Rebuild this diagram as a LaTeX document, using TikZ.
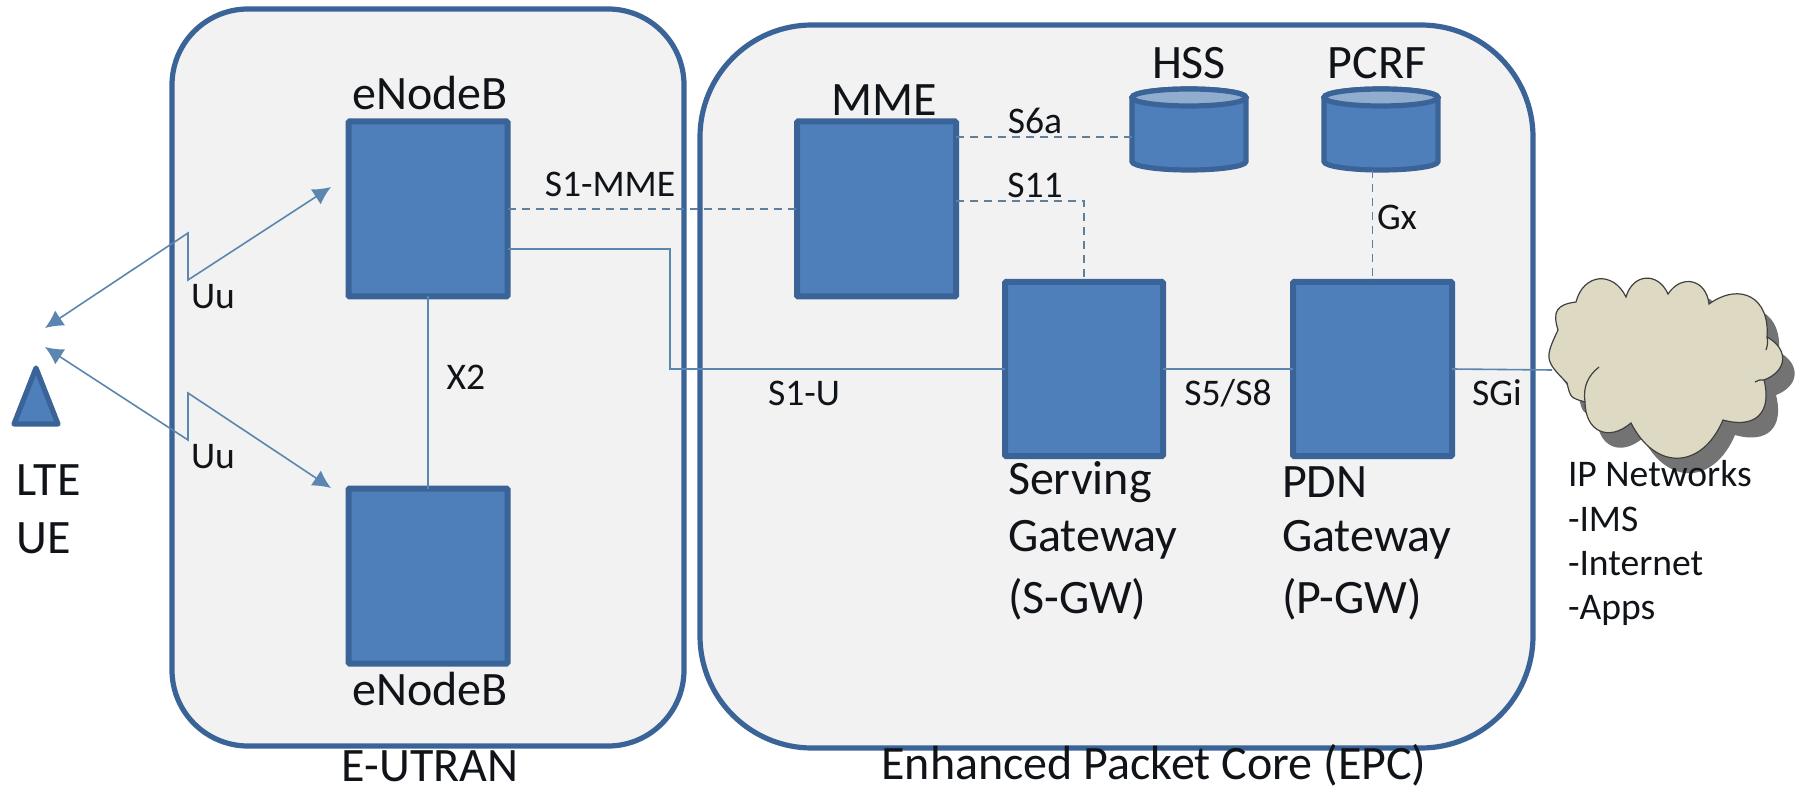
\documentclass[tikz,border=0pt]{standalone}
\usepackage{fontspec}
\setmainfont{Carlito}
\usetikzlibrary{arrows.meta,calc}
\definecolor{boxfill}{HTML}{4F7FBA}
\definecolor{boxline}{HTML}{3A6497}
\definecolor{areafill}{HTML}{F2F2F2}
\definecolor{wire}{HTML}{5A86B0}
\definecolor{dashwire}{HTML}{5F7F9F}
\definecolor{cloudfill}{HTML}{DDD9C3}
\definecolor{inktext}{HTML}{101418}
\tikzset{
  area/.style={draw=boxline,fill=areafill,line width=2.6pt,inner sep=0pt,outer sep=0pt},
  unit/.style={draw=boxline,fill=boxfill,line width=3pt,inner sep=0pt,outer sep=0pt,rounded corners=0.6pt},
  dbframe/.style={inner sep=0pt,outer sep=0pt,minimum width=57pt,minimum height=40.5pt},
  dbbody/.style={draw=boxline,fill=boxfill,line width=2.6pt},
  dbtop/.style={draw=boxline,fill=boxfill!60!areafill,line width=2.6pt},
  big/.style={font=\fontsize{24}{26}\selectfont,text=inktext,inner sep=0pt,outer sep=0pt},
  small/.style={font=\fontsize{18.8}{22}\selectfont,text=inktext,inner sep=0pt,outer sep=0pt},
  link/.style={draw=wire,line width=0.8pt},
  dlink/.style={draw=dashwire,line width=0.7pt,dash pattern=on 4pt off 3pt},
  radio/.style={draw=wire,line width=0.8pt,{Latex[length=9pt,width=9pt]}-{Latex[length=9pt,width=9pt]},line join=miter},
  cb/.style={bend left=#1,looseness=1.5},
}
\newcommand{\cloudpath}{
  (1558,330) to[cb=50] (1576,302) to[cb=70] (1626,297) to[cb=70] (1668,294)
  to[cb=70] (1709,304) to[cb=65] (1767,337) to[cb=65] (1764,380)
  to[cb=60] (1723,420) to[cb=65] (1631,423) to[cb=65] (1585,402)
  to[cb=30] (1567,383) to[cb=35] (1558,330) -- cycle}
\newcommand{\dbshape}[1]{%
  \path[dbbody] ($(#1.north west)+(0,8.5)$) -- ($(#1.south west)+(0,-8.5)$)
     arc[start angle=180,end angle=360,x radius=28.5pt,y radius=4.25pt]
     -- ($(#1.north east)+(0,8.5)$)
     arc[start angle=0,end angle=180,x radius=28.5pt,y radius=4.25pt] -- cycle;
  \path[dbtop] ($(#1.north)+(0,8.5)$) ellipse[x radius=28.5pt,y radius=4.25pt];
}
\begin{document}
\begin{tikzpicture}[x=0.5pt,y=-0.5pt]
\useasboundingbox (0,0) rectangle (1800,791);
% containers
\node[area,rounded corners=38pt,minimum width=256pt,minimum height=368.5pt] (eutran) at (428,377.5) {};
\node[area,rounded corners=56pt,minimum width=416.5pt,minimum height=361.5pt] (epc) at (1116.5,386.5) {};
% cloud
\fill[black!55,shift={(12,15)}] \cloudpath;
\path[draw=black!75,fill=cloudfill,line width=0.6pt] \cloudpath;
\draw[black!75,line width=0.6pt] (1585,402) to[bend left=30] (1599,367);
\draw[black!75,line width=0.6pt] (1764,380) to[bend right=20] (1755,382);
\draw[black!75,line width=0.6pt] (1767,337) to[bend left=15] (1766,350);
% boxes
\node[unit,minimum width=159pt/2,minimum height=175pt/2] (enb1) at (428,209) {};
\node[unit,minimum width=159pt/2,minimum height=175pt/2] (enb2) at (428,576) {};
\node[unit,minimum width=159pt/2,minimum height=175pt/2] (mme) at (876.5,209) {};
\node[unit,minimum width=158pt/2,minimum height=174pt/2] (sgw) at (1084,369) {};
\node[unit,minimum width=159pt/2,minimum height=174pt/2] (pgw) at (1372.5,369) {};
\node[dbframe] (hss) at (1189,129.5) {};
\node[dbframe] (pcrf) at (1381,129.5) {};
\dbshape{hss}
\dbshape{pcrf}
% UE
\coordinate (ua) at (36,368); \coordinate (ub) at (58,424); \coordinate (uc) at (14,424);
\draw[draw=boxline,fill=boxfill,line width=2.6pt,line join=round] (ua) -- (ub) -- (uc) -- cycle;
% connectors
\draw[dlink] ($(mme.east)+(0,-72)$) -- ($(hss.west)+(0,7.5)$);
\coordinate (s11turn) at (sgw.north |- 0,201);
\draw[dlink] ($(mme.east)+(0,-8)$) -- (s11turn) -- (sgw.north);
\draw[dlink] (enb1.east) -- (mme.west);
\draw[dlink] (pcrf.south -| pgw.north) -- (pgw.north);
\coordinate (s1a) at (670,249);
\coordinate (s1b) at (670,369);
\draw[link] ($(enb1.east)+(0,40)$) -- (s1a) -- (s1b) -- (sgw.west);
\draw[link] (sgw.east) -- (pgw.west);
\coordinate (cloudin) at (1552,370);
\draw[link] (pgw.east) -- (cloudin);
\draw[link] (enb1.south) -- (enb2.north);
\coordinate (t1) at (45,328); \coordinate (t2) at (331,187);
\coordinate (t3) at (45,347); \coordinate (t4) at (331,488);
\coordinate (z1) at (188,233); \coordinate (z2) at (188,280);
\coordinate (z3) at (188,440); \coordinate (z4) at (188,393);
\draw[radio] (t1) -- (z1) -- (z2) -- (t2);
\draw[radio] (t3) -- (z3) -- (z4) -- (t4);
% labels
\node[big,anchor=base] (l1) at (430,110) {eNodeB};
\node[big,anchor=base] (l2) at (430,705) {eNodeB};
\node[big] (l3) at (884,100) {MME};
\node[big] (l4) at (1189,63) {HSS};
\node[big] (l5) at (1377,63) {PCRF};
\node[big,anchor=west] (l6) at (1008,482) {Serving};
\node[big,anchor=west] (l7) at (1008,540) {Gateway};
\node[big,anchor=west] (l8) at (1008,599) {(S-GW)};
\node[big,anchor=west] (l9) at (1282,482) {PDN};
\node[big,anchor=west] (l10) at (1282,540) {Gateway};
\node[big,anchor=west] (l11) at (1282,599) {(P-GW)};
\node[big,anchor=west] (l12) at (17,480) {LTE};
\node[big,anchor=west] (l13) at (17,538) {UE};
\node[big,anchor=base] (l14) at (430,781) {E-UTRAN};
\node[big,anchor=base] (l15) at (1154,779) {Enhanced Packet Core (EPC)};
\node[small] (s1) at (213,297) {Uu};
\node[small] (s2) at (213,457) {Uu};
\node[small] (s3) at (466,377) {X2};
\node[small] (s4) at (610,184) {S1-MME};
\node[small] (s5) at (804,393) {S1-U};
\node[small] (s6) at (1035,121) {S6a};
\node[small] (s7) at (1035,185) {S11};
\node[small] (s8) at (1228,393) {S5/S8};
\node[small] (s9) at (1497,393) {SGi};
\node[small] (s10) at (1397,217) {Gx};
\node[small,anchor=west] (n1) at (1568,474) {IP Networks};
\node[small,anchor=west] (n2) at (1568,519) {-IMS};
\node[small,anchor=west] (n3) at (1568,564) {-Internet};
\node[small,anchor=west] (n4) at (1568,610) {-Apps};
\end{tikzpicture}
\end{document}
